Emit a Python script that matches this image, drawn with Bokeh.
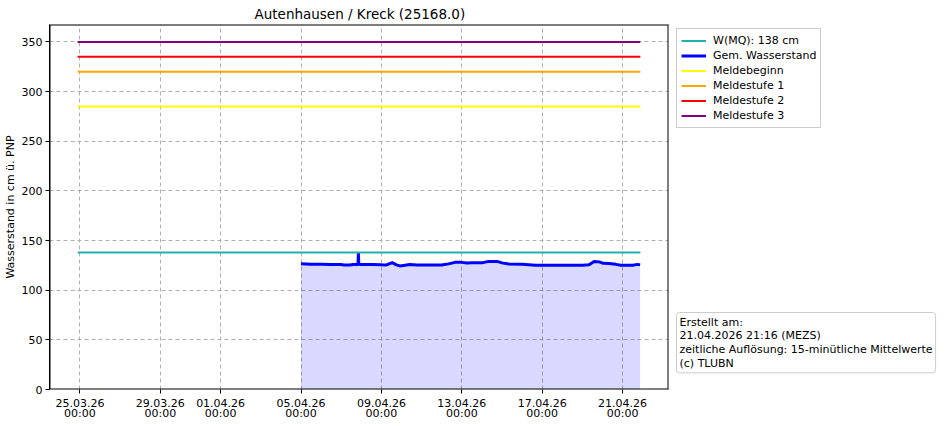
import pandas as pd
from bokeh.plotting import figure
from bokeh.models import Range1d, FixedTicker, Legend, LegendItem, Label, Title, BoxAnnotation
from bokeh.embed import file_html
from bokeh.resources import INLINE

# station / period
title = "Autenhausen / Kreck (25168.0)"
period_start = "2026-03-24 21:15"
period_end = "2026-04-21 21:15"

# threshold lines
level_names = ["W(MQ): 138 cm", "Meldebeginn", "Meldestufe 1", "Meldestufe 2", "Meldestufe 3"]
level_values = [138, 285, 320, 335, 350]
level_colors = ["#20b2aa", "yellow", "orange", "red", "purple"]

water_times = [
    "2026-04-05 00:00", "2026-04-05 12:00", "2026-04-06 00:00", "2026-04-06 12:00",
    "2026-04-07 00:00", "2026-04-07 03:00", "2026-04-07 10:00", "2026-04-07 14:00",
    "2026-04-07 20:00", "2026-04-07 20:30", "2026-04-07 21:00", "2026-04-08 00:00",
    "2026-04-08 12:00", "2026-04-09 00:00", "2026-04-09 06:00", "2026-04-09 13:00",
    "2026-04-09 18:00", "2026-04-09 22:00", "2026-04-10 04:00", "2026-04-10 10:00",
    "2026-04-10 18:00", "2026-04-11 12:00", "2026-04-12 00:00", "2026-04-12 08:00",
    "2026-04-12 16:00", "2026-04-13 00:00", "2026-04-13 06:00", "2026-04-13 12:00",
    "2026-04-14 00:00", "2026-04-14 08:00", "2026-04-14 18:00", "2026-04-15 00:00",
    "2026-04-15 08:00", "2026-04-16 00:00", "2026-04-16 16:00", "2026-04-17 12:00",
    "2026-04-18 00:00", "2026-04-19 00:00", "2026-04-19 08:00", "2026-04-19 14:00",
    "2026-04-19 20:00", "2026-04-20 01:00", "2026-04-20 08:00", "2026-04-20 16:00",
    "2026-04-20 22:00", "2026-04-21 12:00", "2026-04-21 18:00", "2026-04-21 21:00",
]
water_levels = [
    126.5, 126.2, 126.0, 125.8,
    125.8, 125.3, 125.3, 125.8,
    125.8, 137.0, 126.0, 125.8,
    125.9, 125.5, 125.4, 127.8,
    125.5, 124.4, 125.0, 125.8,
    125.3, 125.3, 125.4, 126.5,
    128.0, 128.0, 127.3, 127.5,
    127.5, 129.0, 129.0, 127.5,
    126.3, 126.2, 125.2, 125.2,
    125.2, 125.2, 125.5, 128.8,
    128.5, 127.0, 126.8, 126.0,
    125.2, 125.2, 126.0, 125.5,
]

tick_days = ["25.03.26", "29.03.26", "01.04.26", "05.04.26",
             "09.04.26", "13.04.26", "17.04.26", "21.04.26"]
y_ticks = [0, 50, 100, 150, 200, 250, 300, 350]

info_lines = ["Erstellt am:", "21.04.2026 21:16 (MEZS)",
              "zeitliche Auflösung: 15-minütliche Mittelwerte", "(c) TLUBN"]

FONT = "DejaVu Sans"

t0 = pd.Timestamp(period_start)
t1 = pd.Timestamp(period_end)
pad = (t1 - t0) * 0.05
x_lo = (t0 - pad).value / 1e6
x_hi = (t1 + pad).value / 1e6
y_hi = max(level_values) * 1.05

# the frame runs on to the right edge so legend and info box can sit there;
# the part right of the axes area is painted white again
axes_w = 619
frame_w = 888
frame_h = 365
ms_per_px = (x_hi - x_lo) / axes_w
px_per_cm = frame_h / y_hi

p = figure(frame_width=frame_w, frame_height=frame_h, x_axis_type="datetime",
           x_range=Range1d(x_lo, x_lo + frame_w * ms_per_px), y_range=Range1d(0, y_hi),
           output_backend="svg", toolbar_location=None,
           min_border_left=43, min_border_right=0,
           min_border_top=0, min_border_bottom=0)
p.add_layout(Title(text=title, align="left", offset=205, text_font=FONT,
                   text_font_size="13.5px", text_font_style="normal",
                   text_color="black", standoff=6), "above")

wt = pd.to_datetime(water_times)
p.varea(x=wt, y1=0, y2=water_levels, fill_color="blue", fill_alpha=0.15)

span = pd.to_datetime([period_start, period_end])
rend = {}
rend[level_names[0]] = p.line(span, [level_values[0]] * 2, line_color=level_colors[0], line_width=2)
water_r = p.line(wt, water_levels, line_color="blue", line_width=3)
for name, val, col in zip(level_names[1:], level_values[1:], level_colors[1:]):
    rend[name] = p.line(span, [val] * 2, line_color=col, line_width=2)

# axes box and white cover right of it
p.add_layout(BoxAnnotation(left=x_lo, right=x_hi, bottom=0, top=y_hi, fill_alpha=0,
                           line_color="black", line_width=2, line_alpha=1))
p.add_layout(BoxAnnotation(left=x_hi, fill_color="white", fill_alpha=1, line_alpha=0))

items = [LegendItem(label=level_names[0], renderers=[rend[level_names[0]]]),
         LegendItem(label="Gem. Wasserstand", renderers=[water_r])]
items += [LegendItem(label=n, renderers=[rend[n]]) for n in level_names[1:]]
row_h = 15
legend_h = len(items) * row_h + 8
legend = Legend(items=items, location=(axes_w + 8, frame_h - 6 - legend_h), margin=0,
                padding=4, spacing=0,
                label_height=row_h, glyph_height=row_h, glyph_width=25, label_standoff=7,
                label_text_font=FONT, label_text_font_size="11px", label_text_color="black",
                border_line_color="#cccccc", border_line_alpha=1.0,
                background_fill_color="white", background_fill_alpha=1.0)
p.add_layout(legend)

info = Label(x=x_lo + (axes_w + 8) * ms_per_px, y=77 / px_per_cm, text="\n".join(info_lines),
             text_font=FONT, text_font_size="11px", text_color="black", text_baseline="top",
             text_line_height=1.06, padding=3,
             border_line_color="#cccccc", background_fill_color="white",
             border_radius=3)
p.add_layout(info)

# axes
tick_ms = [float(t.value // 10**6) for t in pd.to_datetime(tick_days, format="%d.%m.%y")]
p.xaxis.ticker = FixedTicker(ticks=tick_ms)
p.xaxis.major_label_overrides = {ms: d + "\n00:00" for ms, d in zip(tick_ms, tick_days)}
p.xaxis.major_label_text_line_height = 0.82
p.yaxis.ticker = FixedTicker(ticks=y_ticks)
p.yaxis.axis_label = "Wasserstand in cm ü. PNP"
for ax in (p.xaxis, p.yaxis):
    ax.major_label_text_font = FONT
    ax.major_label_text_font_size = "11px"
    ax.major_label_text_color = "black"
    ax.axis_label_text_font = FONT
    ax.axis_label_text_font_size = "11px"
    ax.axis_label_text_font_style = "normal"
    ax.axis_label_text_color = "black"
    ax.axis_line_color = "black"
    ax.major_tick_line_color = "black"
    ax.major_tick_out = 4
    ax.major_tick_in = 0
    ax.minor_tick_line_color = None
    ax.major_label_standoff = 3
p.xaxis.axis_line_color = None
p.xaxis.major_label_standoff = 3
p.yaxis.axis_label_standoff = 2

p.grid.grid_line_color = "#b0b0b0"
p.grid.grid_line_dash = "4 3"
p.grid.grid_line_width = 1
p.outline_line_color = None

open("out.html", "w").write(file_html(p, INLINE))
